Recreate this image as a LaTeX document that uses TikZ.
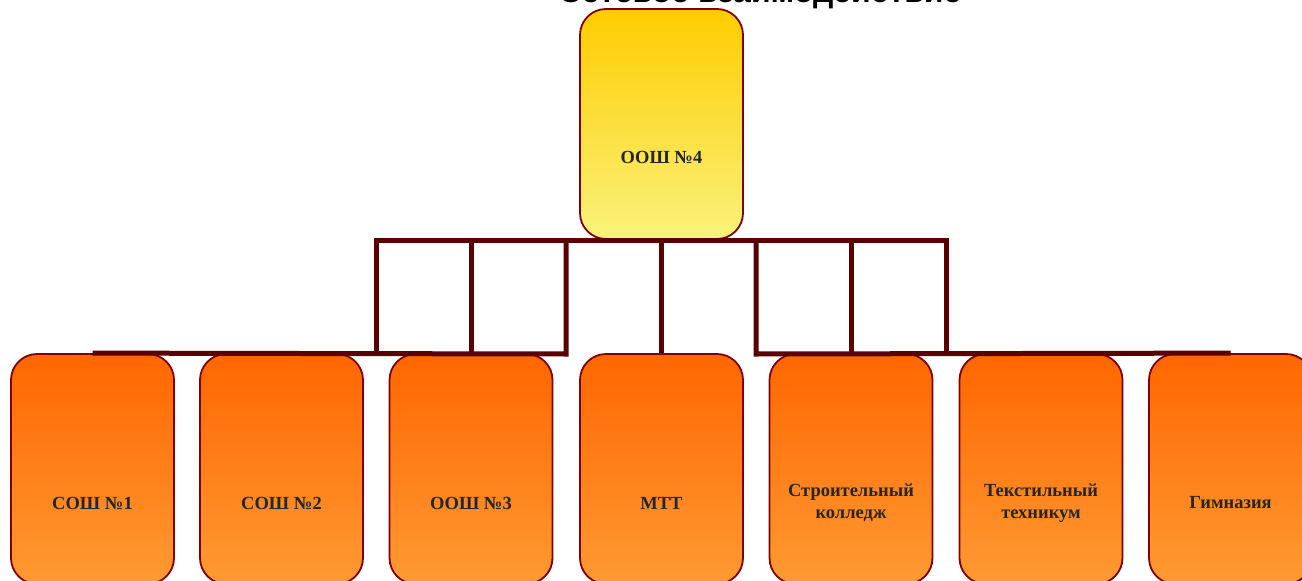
\documentclass[tikz,border=0pt]{standalone}
\usepackage{fontspec}
\setmainfont{Liberation Serif}
\newfontfamily\titlefont{Liberation Sans}
\definecolor{linebrown}{HTML}{5A0000}
\definecolor{boxedge}{HTML}{800000}
\definecolor{txt}{HTML}{262626}
\definecolor{ytop}{HTML}{FFCC00}
\definecolor{ybot}{HTML}{F9F27C}
\definecolor{otop}{HTML}{FF6600}
\definecolor{obot}{HTML}{FF9A33}
\begin{document}
\begin{tikzpicture}[x=1pt,y=-1pt,
  box/.style={rectangle, rounded corners=26pt, minimum width=163pt, minimum height=230pt,
    draw=boxedge, line width=1.8pt, inner sep=0pt},
  topbox/.style={box, top color=ytop, bottom color=ybot},
  lowbox/.style={box, top color=otop, bottom color=obot},
  boxtext/.style={font=\bfseries\fontsize{18.5}{22}\selectfont, text=txt, align=center, inner sep=0pt},
  conn/.style={draw=linebrown, line width=5pt, line join=miter}]
\useasboundingbox (0,0) rectangle (1302,581);
\clip (0,0) rectangle (1302,581);
\fill[white] (0,0) rectangle (1302,581);
\node[font=\titlefont\bfseries\fontsize{32}{38}\selectfont, anchor=base, inner sep=0pt] (title) at (760,2) {Сетевое взаимодействие};
% junction points
\foreach \i/\x in {1/376,2/471,3/566,4/661,5/756,6/851,7/946}{
  \coordinate (h\i) at (\x,240);
  \coordinate (l\i) at (\x,354);
}
% boxes
\path (661.5,124) node[topbox] (t) {};
\foreach \i/\x in {1/92.5,2/281.5,3/471,4/661.5,5/851,6/1041,7/1230.5}{
  \path (\x,469) node[lowbox] (b\i) {};
}
% connectors
\draw[conn] (l1) -- (h1) -- (h7) -- (l7);
\draw[conn] (h2) -- (l2);
\draw[conn] (h6) -- (l6);
\draw[conn] (t.south) -- (b4.north);
\draw[conn] (b1.north) -- (l3) -- (h3);
\draw[conn] (b7.north) -- (l5) -- (h5);
% labels
\node[boxtext] (tt) at ([yshift=-33pt]t.center) {ООШ №4};
\node[boxtext] (t1) at ([yshift=-34pt]b1.center) {СОШ №1};
\node[boxtext] (t2) at ([yshift=-34pt]b2.center) {СОШ №2};
\node[boxtext] (t3) at ([yshift=-34pt]b3.center) {ООШ №3};
\node[boxtext] (t4) at ([yshift=-34pt]b4.center) {МТТ};
\node[boxtext] (t5) at ([yshift=-34pt]b5.center) {Строительный\\колледж};
\node[boxtext] (t6) at ([yshift=-34pt]b6.center) {Текстильный\\техникум};
\node[boxtext] (t7) at ([yshift=-34pt]b7.center) {Гимназия};
\end{tikzpicture}
\end{document}
